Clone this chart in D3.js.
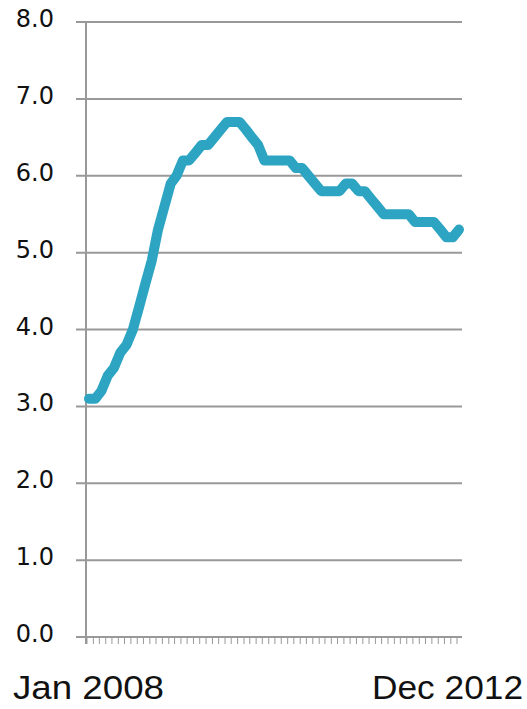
<!DOCTYPE html>
<html lang="en">
<head>
<meta charset="UTF-8">
<title>Rate 2008-2012</title>
<script src="https://d3js.org/d3.v7.min.js"></script>
<style>
  body { margin: 0; background: #fff; }
  svg { display: block; }
</style>
</head>
<body>
<script>
    // monthly values, Jan 2008 .. Dec 2012
    var values = [
        3.1, 3.1, 3.2, 3.4, 3.5, 3.7, 3.8, 4.0, 4.3, 4.6, 4.9, 5.3,
        5.6, 5.9, 6.0, 6.2, 6.2, 6.3, 6.4, 6.4, 6.5, 6.6, 6.7, 6.7,
        6.7, 6.6, 6.5, 6.4, 6.2, 6.2, 6.2, 6.2, 6.2, 6.1, 6.1, 6.0,
        5.9, 5.8, 5.8, 5.8, 5.8, 5.9, 5.9, 5.8, 5.8, 5.7, 5.6, 5.5,
        5.5, 5.5, 5.5, 5.5, 5.4, 5.4, 5.4, 5.4, 5.3, 5.2, 5.2, 5.3
    ];
    var yTicks = [0, 1, 2, 3, 4, 5, 6, 7, 8];
    var xLabels = ["Jan 2008", "Dec 2012"];

    var months = d3.timeMonth.range(new Date(2008, 0, 1), new Date(2013, 0, 1));
    var data = months.map(function (m, i) { return { date: m, value: values[i] }; });

    var width = 527, height = 709;
    var svg = d3.select("body").append("svg")
        .attr("width", width)
        .attr("height", height);

    var x = d3.scaleTime()
        .domain([months[0], months[months.length - 1]])
        .range([89, 459]);
    var y = d3.scaleLinear()
        .domain([0, 8])
        .range([637, 22]);

    var grey = "#999999";

    // gridlines
    svg.append("g").selectAll("line")
        .data(yTicks)
        .enter().append("line")
        .attr("x1", 76).attr("x2", 462)
        .attr("y1", function (d) { return y(d); })
        .attr("y2", function (d) { return y(d); })
        .attr("stroke", grey)
        .attr("stroke-width", 2);

    // y labels
    svg.append("g").selectAll("text")
        .data(yTicks)
        .enter().append("text")
        .attr("x", 54)
        .attr("y", function (d) { return y(d) + 5; })
        .attr("text-anchor", "end")
        .style("font-family", "DejaVu Sans")
        .style("font-size", "24px")
        .attr("fill", "#111")
        .text(function (d) { return d3.format(".1f")(d); });

    // y axis line
    svg.append("line")
        .attr("x1", 86).attr("x2", 86)
        .attr("y1", y(8)).attr("y2", 644)
        .attr("stroke", grey)
        .attr("stroke-width", 2);

    // month ticks
    svg.append("g").selectAll("line")
        .data(months)
        .enter().append("line")
        .attr("x1", function (d) { return x(d) - 2; })
        .attr("x2", function (d) { return x(d) - 2; })
        .attr("y1", 637).attr("y2", 644)
        .attr("stroke", grey)
        .attr("stroke-width", 1);

    // line
    var line = d3.line()
        .x(function (d) { return x(d.date); })
        .y(function (d) { return y(d.value); });

    svg.append("path")
        .datum(data)
        .attr("d", line)
        .attr("fill", "none")
        .attr("stroke", "#2ca4c2")
        .attr("stroke-width", 10)
        .attr("stroke-linejoin", "round")
        .attr("stroke-linecap", "round");

    // x labels
    svg.append("text")
        .attr("x", 13).attr("y", 699)
        .attr("textLength", 151)
        .attr("lengthAdjust", "spacingAndGlyphs")
        .style("font-family", "Liberation Sans, Arial, sans-serif")
        .style("font-size", "33px")
        .attr("fill", "#111")
        .text(xLabels[0]);
    svg.append("text")
        .attr("x", 372).attr("y", 699)
        .attr("textLength", 151)
        .attr("lengthAdjust", "spacingAndGlyphs")
        .style("font-family", "Liberation Sans, Arial, sans-serif")
        .style("font-size", "33px")
        .attr("fill", "#111")
        .text(xLabels[1]);
</script>
</body>
</html>
